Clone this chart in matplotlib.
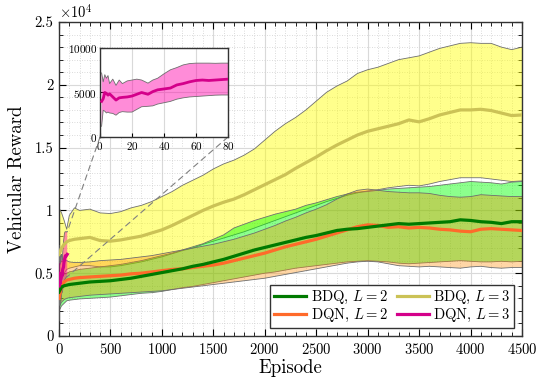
import matplotlib
matplotlib.use('Agg')
import matplotlib.pyplot as plt
from matplotlib.ticker import MultipleLocator, FuncFormatter
from matplotlib.patches import ConnectionPatch
from matplotlib.lines import Line2D

plt.rcParams['font.family'] = 'serif'
plt.rcParams['font.serif'] = ['cmr10', 'DejaVu Serif']
plt.rcParams['mathtext.fontset'] = 'cm'
plt.rcParams['axes.unicode_minus'] = False
plt.rcParams['axes.formatter.use_mathtext'] = True

# ---------------- data ----------------
episodes = [0, 25, 50, 75, 100, 150, 200,
            300, 400, 500, 600, 700, 800, 900, 1000, 1100, 1200,
            1300, 1400, 1500, 1600, 1700, 1800, 1900, 2000, 2100, 2200,
            2300, 2400, 2500, 2600, 2700, 2800, 2900, 3000, 3100, 3200,
            3300, 3400, 3500, 3600, 3700, 3800, 3900, 4000, 4100, 4200,
            4300, 4400, 4500]

bdq2_mean = [3500, 3900, 4000, 4050, 4100, 4150, 4200,
             4300, 4350, 4400, 4500, 4600, 4750, 4900, 5050, 5200, 5350,
             5550, 5700, 5900, 6100, 6350, 6600, 6850, 7050, 7250, 7450,
             7650, 7850, 8000, 8200, 8400, 8500, 8550, 8650, 8750, 8850,
             8950, 8900, 8950, 9000, 9050, 9100, 9250, 9200, 9100, 9050,
             8950, 9100, 9100]
bdq2_upper = [5000, 5000, 4900, 5000, 5100, 5200, 5300,
              5400, 5500, 5600, 5700, 5850, 6000, 6200, 6400, 6600, 6850,
              7100, 7350, 7700, 8050, 8600, 8900, 9200, 9450, 9700, 9900,
              10100, 10400, 10600, 10850, 11100, 11300, 11450, 11500, 11600, 11700,
              11750, 11800, 11850, 11900, 12000, 12100, 12200, 12300, 12250, 12200,
              12100, 12250, 12300]
bdq2_lower = [2000, 2400, 2600, 2800, 2850, 2900, 2950,
              3000, 3050, 3100, 3200, 3300, 3400, 3450, 3550, 3700, 3850,
              3950, 4100, 4250, 4400, 4550, 4700, 4850, 5000, 5100, 5250,
              5400, 5500, 5600, 5700, 5800, 5900, 5950, 6000, 5950, 5900,
              5800, 5750, 5800, 5850, 5900, 5950, 6000, 5950, 5900, 5900,
              5950, 5900, 5950]

dqn2_mean = [3000, 4000, 4300, 4450, 4500, 4600, 4650,
             4700, 4750, 4800, 4850, 4950, 5000, 5100, 5200, 5300, 5350,
             5450, 5550, 5650, 5800, 6000, 6200, 6400, 6600, 6850, 7100,
             7300, 7500, 7700, 7950, 8200, 8450, 8700, 8850, 8800, 8650,
             8700, 8600, 8650, 8600, 8500, 8450, 8350, 8300, 8500, 8550,
             8500, 8450, 8400]
dqn2_upper = [5500, 6000, 6000, 6000, 5900, 5850, 5850,
              5900, 6000, 6050, 6100, 6200, 6300, 6400, 6550, 6700, 6850,
              7000, 7150, 7300, 7500, 7700, 7950, 8200, 8500, 8800, 9150,
              9450, 9800, 10100, 10450, 10900, 11300, 11600, 11700, 11600, 11500,
              11450, 11400, 11400, 11350, 11200, 11100, 11050, 11100, 11250, 11200,
              11150, 11100, 11100]
dqn2_lower = [2300, 2700, 2900, 3000, 3050, 3100, 3150,
              3250, 3300, 3350, 3400, 3450, 3500, 3550, 3600, 3700, 3800,
              3900, 4000, 4100, 4200, 4300, 4400, 4500, 4600, 4750, 4900,
              5050, 5200, 5350, 5500, 5650, 5800, 5900, 5950, 5900, 5750,
              5600, 5550, 5500, 5550, 5500, 5450, 5400, 5500, 5550, 5450,
              5400, 5450, 5450]

bdq3_mean = [6500, 7000, 7300, 7500, 7600, 7700, 7750,
             7850, 7600, 7550, 7650, 7800, 7950, 8200, 8450, 8800, 9200,
             9600, 10000, 10350, 10650, 10900, 11250, 11650, 12050, 12450, 12850,
             13350, 13800, 14250, 14750, 15200, 15600, 16000, 16300, 16500, 16700,
             16900, 17200, 17050, 17300, 17600, 17800, 18000, 18000, 18050, 17950,
             17750, 17550, 17600]
bdq3_upper = [10200, 9800, 9200, 8500, 9600, 10200, 10000,
              10100, 9800, 9750, 9900, 10200, 10400, 10700, 11100, 11500, 12000,
              12400, 12800, 13300, 13700, 14000, 14400, 14900, 15600, 16300, 16900,
              17400, 18000, 18700, 19400, 19900, 20300, 20900, 21200, 21400, 21700,
              22000, 22150, 22300, 22600, 22900, 23100, 23300, 23350, 23300, 23300,
              23000, 22800, 23000]
bdq3_lower = [3000, 4500, 5000, 5300, 5400, 5500, 5600,
              5600, 5500, 5500, 5600, 5750, 5900, 6100, 6300, 6550, 6800,
              7000, 7300, 7550, 7800, 8050, 8300, 8600, 8900, 9200, 9500,
              9800, 10100, 10400, 10700, 10950, 11200, 11400, 11550, 11650, 11800,
              11900, 12000, 11950, 12100, 12300, 12450, 12600, 12600, 12600, 12500,
              12400, 12300, 12350]

dqn3_episodes = [1, 2, 3, 4, 5, 6, 8, 10, 12, 14, 17, 20, 23, 26, 30, 33, 36,
                 40, 44, 48, 52, 56, 60, 64, 68, 72, 76, 80]
dqn3_mean = [4000, 4300, 5000, 4900, 4700, 4850, 4500, 4150, 4400, 4450, 4500,
             4600, 4800, 5000, 4800, 5100, 5300, 5400, 5500, 5850, 6000, 6200,
             6350, 6400, 6350, 6400, 6450, 6500]
dqn3_upper = [7200, 6200, 7000, 6600, 6900, 6000, 6500, 5800, 6400, 6000, 6300,
              6400, 6500, 6400, 6050, 6400, 6600, 7100, 7550, 7800, 8100, 8250,
              8300, 8300, 8300, 8280, 8300, 8300]
dqn3_lower = [1200, 3000, 2900, 2700, 2800, 2700, 2650, 2450, 2750, 2850, 2800,
              2800, 3100, 3400, 3450, 3500, 3700, 3850, 4000, 4250, 4400, 4500,
              4550, 4600, 4650, 4700, 4720, 4720]

labels = [r'BDQ, $L=2$', r'DQN, $L=2$', r'BDQ, $L=3$', r'DQN, $L=3$']
line_colors = ['#007a00', '#ff6a2a', '#cbc256', '#d4008a']
fill_colors = ['#00ff00', '#ff8c00', '#ffff00', '#ff00aa']
fill_alpha = [0.45, 0.35, 0.45, 0.45]
edge_color = '#6e6e6e'

# ---------------- figure ----------------
fig = plt.figure(figsize=(5.48, 3.86), dpi=100)
ax = fig.add_axes([59/548, 1-336/386, 463/548, 314/386])

def band(a, x, lo, hi, fc, alpha, z):
    a.fill_between(x, lo, hi, facecolor=fc, alpha=alpha, linewidth=0, zorder=z)
    a.plot(x, hi, color=edge_color, lw=0.6, zorder=z + 0.1)
    a.plot(x, lo, color=edge_color, lw=0.6, zorder=z + 0.1)

band(ax, episodes, bdq3_lower, bdq3_upper, fill_colors[2], fill_alpha[2], 2)
band(ax, episodes, bdq2_lower, bdq2_upper, fill_colors[0], fill_alpha[0], 2.2)
band(ax, episodes, dqn2_lower, dqn2_upper, fill_colors[1], fill_alpha[1], 2.4)
band(ax, dqn3_episodes, dqn3_lower, dqn3_upper, fill_colors[3], fill_alpha[3], 2.6)

ax.plot(episodes, bdq3_mean, color=line_colors[2], lw=2.3, zorder=4)
ax.plot(episodes, dqn2_mean, color=line_colors[1], lw=2.3, zorder=4.1)
ax.plot(episodes, bdq2_mean, color=line_colors[0], lw=2.3, zorder=4.2)
ax.plot(dqn3_episodes, dqn3_mean, color=line_colors[3], lw=2.3, zorder=4.3)

ax.set_xlim(0, 4500)
ax.set_ylim(0, 25000)
ax.xaxis.set_major_locator(MultipleLocator(500))
ax.xaxis.set_minor_locator(MultipleLocator(100))
ax.yaxis.set_major_locator(MultipleLocator(5000))
ax.yaxis.set_minor_locator(MultipleLocator(1000))
ax.yaxis.set_major_formatter(FuncFormatter(lambda v, p: f'{v/1e4:g}'))
ax.tick_params(which='both', direction='in', top=True, right=True, labelsize=10.5, pad=4)
ax.tick_params(which='major', length=5, width=0.8)
ax.tick_params(which='minor', length=3, width=0.6)
ax.grid(which='major', color='#d9d9d9', lw=0.8, zorder=0)
ax.grid(which='minor', color='#cfcfcf', lw=0.6, ls=(0, (1, 2)), zorder=0)
ax.set_axisbelow(True)
for s in ax.spines.values():
    s.set_color('#333333')
    s.set_linewidth(1.0)
ax.set_xlabel('Episode', fontsize=13.5, labelpad=2)
ax.set_ylabel('Vehicular Reward', fontsize=13.5, labelpad=6)
ax.text(0.0, 1.005, r'$\times10^4$', transform=ax.transAxes, fontsize=10.5,
        ha='left', va='bottom')

handles = [Line2D([], [], color=c, lw=2.3) for c in line_colors]
leg = ax.legend(handles, labels, ncol=2, loc='lower right', fontsize=10.5,
                frameon=True, fancybox=False, framealpha=1, edgecolor='#333333',
                handlelength=2.2, handletextpad=0.3, columnspacing=0.6,
                labelspacing=0.1, borderpad=0.25, borderaxespad=0.55)
leg.get_frame().set_linewidth(1.0)
leg.set_zorder(10)

# ---------------- inset ----------------
axin = fig.add_axes([100/548, 1-137/386, 128/548, 89/386])
axin.set_zorder(6)
axin.fill_between(dqn3_episodes, dqn3_lower, dqn3_upper, facecolor=fill_colors[3],
                  alpha=fill_alpha[3], linewidth=0, zorder=2)
axin.plot(dqn3_episodes, dqn3_upper, color=edge_color, lw=0.6, zorder=2.1)
axin.plot(dqn3_episodes, dqn3_lower, color=edge_color, lw=0.6, zorder=2.1)
axin.plot(dqn3_episodes, dqn3_mean, color=line_colors[3], lw=2.0, zorder=3)
axin.set_xlim(0, 80)
axin.set_ylim(0, 10000)
axin.xaxis.set_major_locator(MultipleLocator(20))
axin.yaxis.set_major_locator(MultipleLocator(5000))
axin.tick_params(direction='in', labelsize=8, length=3, pad=2)
axin.grid(color='#d9d9d9', lw=0.8, zorder=0)
axin.set_axisbelow(True)
for s in axin.spines.values():
    s.set_color('#333333')
    s.set_linewidth(1.0)

for xa, ya, yb in [(0, 0, dqn3_upper[-1]), (80, 0, dqn3_lower[-1])]:
    con = ConnectionPatch(xyA=(xa, ya), coordsA=axin.transData,
                          xyB=(dqn3_episodes[-1], yb), coordsB=ax.transData,
                          color='#808080', ls=(0, (5, 4)), lw=0.8)
    con.set_zorder(5)
    fig.add_artist(con)

fig.savefig('out.png', dpi=100)
